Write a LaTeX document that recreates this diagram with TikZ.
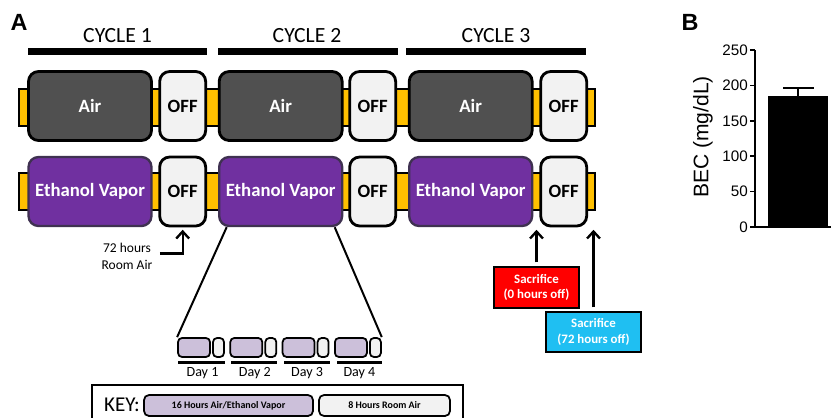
\documentclass[tikz,border=0pt]{standalone}
\usepackage{fontspec}
\setmainfont{Carlito}
\newfontfamily\arialfont{Liberation Sans}
\usetikzlibrary{positioning}
\usetikzlibrary{calc}
\usetikzlibrary{arrows.meta}
\definecolor{airgray}{HTML}{505050}
\definecolor{ethpurple}{HTML}{7030A0}
\definecolor{ethborder}{HTML}{3F3151}
\definecolor{offwhite}{HTML}{F2F2F2}
\definecolor{tubeyellow}{HTML}{FFC000}
\definecolor{daypurple}{HTML}{CCC0DA}
\definecolor{sacred}{HTML}{FF0000}
\definecolor{saccyan}{HTML}{1FBFF2}
\tikzset{airbox/.style={draw=black,line width=2.4pt,rounded corners=0.3cm,fill=airgray,text=white,inner sep=0pt,
  minimum width=3.69cm,minimum height=2.07cm,font=\fontsize{16}{19}\selectfont\bfseries}}
\tikzset{ethbox/.style={airbox,draw=ethborder,line width=2pt,fill=ethpurple}}
\tikzset{offbox/.style={airbox,fill=offwhite,text=black,minimum width=1.38cm}}
\tikzset{daybox/.style={draw=black,line width=1.5pt,rounded corners=0.12cm,fill=daypurple,inner sep=0pt,
  minimum width=0.96cm,minimum height=0.57cm}}
\tikzset{dayoff/.style={daybox,fill=offwhite,minimum width=0.33cm}}
\tikzset{daytext/.style={font=\fontsize{12}{14}\selectfont}}
\tikzset{keybox/.style={draw=black,line width=1.5pt,rounded corners=0.15cm,inner sep=0pt,minimum height=0.63cm,
  font=\fontsize{8.5}{10}\selectfont\bfseries}}
\tikzset{sacbox/.style={draw=black,line width=1.8pt,text=white,align=center,inner sep=0pt,
  minimum height=1.23cm,font=\fontsize{11}{13}\selectfont\bfseries}}
\tikzset{tube/.style={fill=tubeyellow,draw=black,line width=1pt}}
\tikzset{ed/.style={line width=1.7pt}}
\tikzset{cyc/.style={font=\fontsize{18.5}{22}\selectfont}}
\tikzset{tick/.style={anchor=east,inner sep=0pt,font=\arialfont\fontsize{13}{15}\selectfont}}
\tikzset{panel/.style={font=\arialfont\bfseries\fontsize{20}{24}\selectfont}}
\tikzset{>={Straight Barb[length=6pt,width=11pt]}}

\begin{document}
\begin{tikzpicture}[x=0.03cm,y=-0.03cm]
\useasboundingbox (0,0) rectangle (831,418);

\node[panel] (labA) at (19,22) {A};
\node[panel] (labB) at (690,22) {B};

% tubes behind the chambers
\filldraw[tube] (19,89) rectangle (595,126);
\filldraw[tube] (19,173) rectangle (595,210);

% cycle headers
\node[cyc] (cyc1) at (117.5,36) {CYCLE 1};
\node[cyc] (cyc2) at (307,36) {CYCLE 2};
\node[cyc] (cyc3) at (496,36) {CYCLE 3};
\fill (28,48) rectangle (207,55);
\fill (218,48) rectangle (398,55);
\fill (406,48) rectangle (586,55);

\begin{scope}[on grid]
\node[airbox] (air1) at (90,106) {Air};
\node[offbox] (off1) [right=2.78cm of air1] {OFF};
\node[airbox] (air2) [right=2.94cm of off1] {Air};
\node[offbox] (off2) [right=2.76cm of air2] {OFF};
\node[airbox] (air3) [right=2.94cm of off2] {Air};
\node[offbox] (off3) [right=2.79cm of air3] {OFF};

\node[ethbox] (eth1) [below=2.565cm of air1] {Ethanol Vapor};
\node[offbox] (eoff1) [below=2.565cm of off1] {OFF};
\node[ethbox] (eth2) [below=2.565cm of air2] {Ethanol Vapor};
\node[offbox] (eoff2) [below=2.565cm of off2] {OFF};
\node[ethbox] (eth3) [below=2.565cm of air3] {Ethanol Vapor};
\node[offbox] (eoff3) [below=2.565cm of off3] {OFF};
\end{scope}

% room air after cycle 1
\node[align=center,font=\fontsize{11.5}{14.5}\selectfont] (room) at (127,256) {72 hours\\Room Air};
\draw[->,ed,line width=2pt,shorten >=2pt] ([xshift=3pt,yshift=2pt]room.east) -| (eoff1.south);

% one cycle split into days
\node[daybox] (d1) at (194,347.5) {};
\node[dayoff] (w1) at (218.5,347.5) {};
\node[daybox] (d2) at (246.3,347.5) {};
\node[dayoff] (w2) at (270.8,347.5) {};
\node[daybox] (d3) at (298.6,347.5) {};
\node[dayoff] (w3) at (323.1,347.5) {};
\node[daybox] (d4) at (350.9,347.5) {};
\node[dayoff] (w4) at (375.4,347.5) {};
\draw[ed] ($(eth2.south)+(-54,0)$) -- (d1.north west);
\draw[ed] ($(eth2.south)+(54,0)$) -- (w4.north east);

\draw[line width=2pt] (178,362.5) -- (225,362.5);
\draw[line width=2pt] (231,362.5) -- (277,362.5);
\draw[line width=2pt] (284,362.5) -- (330,362.5);
\draw[line width=2pt] (337,362.5) -- (382,362.5);
\node[daytext] (day1) at (202.5,373) {Day 1};
\node[daytext] (day2) at (254.8,373) {Day 2};
\node[daytext] (day3) at (307.1,373) {Day 3};
\node[daytext] (day4) at (359.4,373) {Day 4};

% key
\draw[line width=1.5pt] (92,430) -- (92,385) -- (463,385) -- (463,430);
\node[font=\fontsize{18}{22}\selectfont] (key) at (122,405) {KEY:};
\node[keybox,fill=daypurple,minimum width=5.07cm] (k1) at (228.5,405.5) {16 Hours Air/Ethanol Vapor};
\node[keybox,fill=offwhite,minimum width=3.93cm] (k2) at (384.5,405.5) {8 Hours Room Air};

% sacrifice points
\node[sacbox,fill=sacred,minimum width=2.55cm] (sac0) at (536.5,287.5) {Sacrifice\\(0 hours off)};
\node[sacbox,fill=saccyan,minimum width=2.85cm,minimum height=1.2cm] (sac72) at (593.5,332) {Sacrifice\\(72 hours off)};
\draw[->,ed,line width=2pt,shorten <=3pt,shorten >=2pt] (sac0.north) -- (sac0.north |- eoff3.south);
\draw[->,ed,line width=2pt,shorten <=3pt,shorten >=2pt] (sac72.north) -- (sac72.north |- eoff3.south);

% panel B
\draw[line width=1.7pt] (755,50) -- (755,227) -- (831,227);
\draw[line width=1.5pt] (750,227) -- (755,227);
\draw[line width=1.5pt] (750,191.6) -- (755,191.6);
\draw[line width=1.5pt] (750,156.2) -- (755,156.2);
\draw[line width=1.5pt] (750,120.8) -- (755,120.8);
\draw[line width=1.5pt] (750,85.4) -- (755,85.4);
\draw[line width=1.5pt] (750,50) -- (755,50);
\node[tick] (t0) at (748,227) {0};
\node[tick] (t50) at (748,191.6) {50};
\node[tick] (t100) at (748,156.2) {100};
\node[tick] (t150) at (748,120.8) {150};
\node[tick] (t200) at (748,85.4) {200};
\node[tick] (t250) at (748,50) {250};
\node[rotate=90,font=\arialfont\fontsize{18}{22}\selectfont] (ylab) at (703,137) {BEC (mg/dL)};
\fill (768,96) rectangle (828,227);
\draw[line width=2.2pt] (798,96) -- (798,88);
\draw[line width=2.2pt] (783,88) -- (814,88);
\end{tikzpicture}
\end{document}
